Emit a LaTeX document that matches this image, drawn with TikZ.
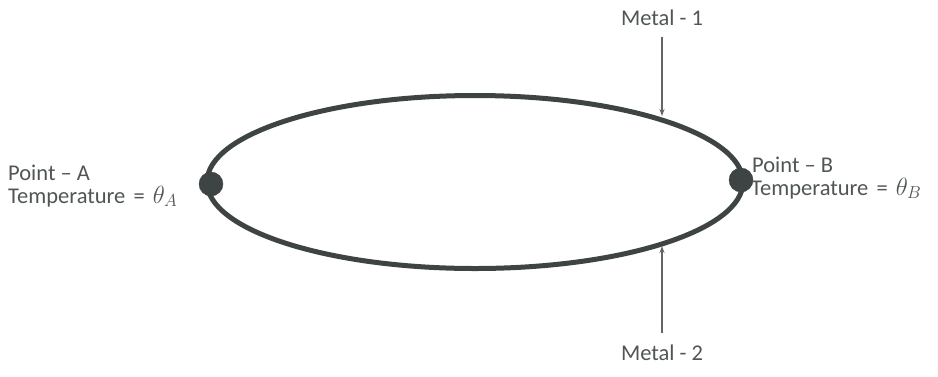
\documentclass[tikz,border=0pt]{standalone}
\usepackage{fontspec}
\setmainfont{Carlito}
\usetikzlibrary{arrows.meta}
\definecolor{loopcol}{HTML}{3E4444}
\definecolor{txtcol}{HTML}{505555}
\newcommand{\bigmath}[1]{{\fontsize{27}{27}\selectfont$#1$}}
\begin{document}
\begin{tikzpicture}[x=1pt,y=-1pt,
  lbl/.style={text=txtcol,inner sep=0pt,font=\fontsize{22.5}{26}\selectfont},
  junction/.style={circle,fill=loopcol,draw=loopcol,inner sep=0pt,minimum size=24pt},
  pointer/.style={draw=txtcol!90,line width=1.3pt,-{Stealth[length=7pt,width=5pt]}}]
\useasboundingbox (0,0) rectangle (938,376);
% loop
\draw[loopcol,line width=5pt] (475,182) ellipse [x radius=268, y radius=86.5];
% junctions
\node[junction] (ja) at (211,184) {};
\node[junction] (jb) at (741,180) {};
% labels
\node[lbl,anchor=base west] (pa) at (8,180) {Point -- A};
\node[lbl,anchor=base west] (ta) at (8,203) {Temperature\hspace{3pt} =\hspace{3pt} \bigmath{\theta_A}};
\node[lbl,anchor=base west] (pb) at (752,172) {Point -- B};
\node[lbl,anchor=base west] (tb) at (751,195) {Temperature\hspace{3pt} =\hspace{3pt} \bigmath{\theta_B}};
\node[lbl,anchor=base] (m1) at (662,25) {Metal - 1};
\node[lbl,anchor=base] (m2) at (662,360) {Metal - 2};
% pointers
\coordinate (t1) at (662,116);
\coordinate (t2) at (662,246);
\draw[pointer] ([yshift=-12pt]m1.base) -- (t1);
\draw[pointer] ([yshift=27pt]m2.base) -- (t2);
\end{tikzpicture}
\end{document}
